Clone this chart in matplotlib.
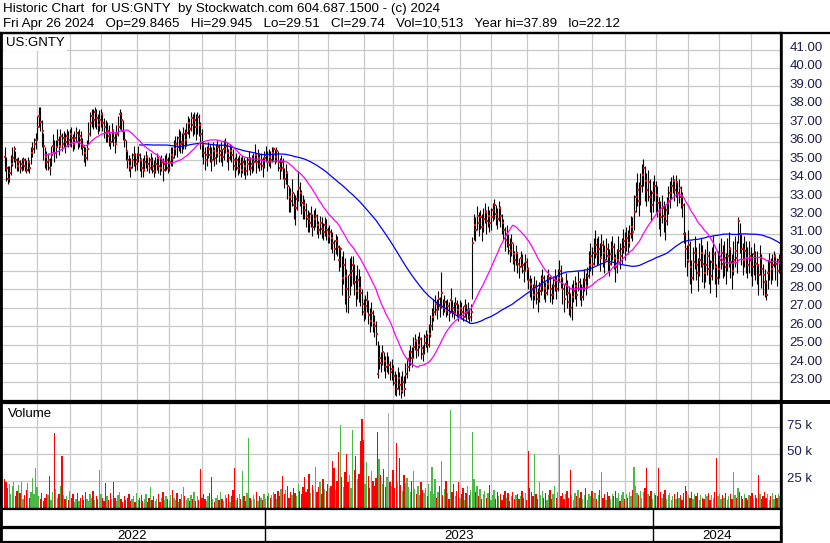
import numpy as np
import pandas as pd
import matplotlib
matplotlib.use("Agg")
import matplotlib.pyplot as plt

plt.rcParams['font.family'] = ['Liberation Sans', 'DejaVu Sans']

symbol = "US:GNTY"
title_line1 = "Historic Chart  for US:GNTY  by Stockwatch.com 604.687.1500 - (c) 2024"
title_line2 = ("Fri Apr 26 2024   Op=29.8465   Hi=29.945   Lo=29.51   Cl=29.74   "
               "Vol=10,513   Year hi=37.89   lo=22.12")

start_date = "2022-05-02"
end_date = "2024-04-26"
holidays = ["2022-05-30", "2022-06-20", "2022-07-04", "2022-09-05", "2022-11-24", "2022-12-26",
            "2023-01-02", "2023-01-16", "2023-02-20", "2023-04-07", "2023-05-29", "2023-06-19",
            "2023-07-04", "2023-09-04", "2023-11-23", "2023-12-25",
            "2024-01-01", "2024-01-15", "2024-02-19", "2024-03-29"]

# daily closes
close = [
    35.2, 34.6, 34.0, 34.3, 34.8, 35.1, 35.6, 35.0, 34.7, 34.9,
    34.6, 34.8, 35.0, 34.7, 34.5, 34.9, 34.6, 35.4, 35.6, 35.9,
    36.1, 36.8, 37.4, 37.1, 36.6, 35.8, 35.2, 34.9, 35.0, 34.6,
    35.3, 35.8, 35.4, 35.7, 36.1, 35.8, 36.3, 35.9, 36.2, 36.0,
    36.3, 36.1, 36.4, 36.2, 35.9, 36.2, 36.5, 36.0, 36.3, 36.1,
    35.7, 35.4, 35.1, 35.6, 36.4, 37.0, 37.4, 37.2, 37.6, 37.3,
    36.9, 37.2, 37.5, 37.0, 36.8, 36.5, 36.6, 36.3, 36.0, 36.6,
    36.2, 35.9, 36.4, 36.8, 37.5, 37.2, 36.6, 36.1, 35.5, 35.0,
    34.7, 34.6, 35.0, 35.3, 34.8, 35.0, 35.3, 35.0, 34.6, 34.5,
    34.9, 35.2, 34.8, 34.6, 35.0, 34.7, 34.4, 34.8, 35.1, 34.7,
    34.6, 34.9, 34.5, 34.8, 35.0, 34.6, 34.9, 35.3, 35.1, 35.6,
    35.9, 35.7, 36.2, 35.9, 36.0, 36.4, 36.1, 36.5, 37.0, 36.7,
    37.3, 36.9, 37.2, 36.8, 37.35, 36.9, 36.4, 35.9, 35.4, 35.0,
    35.3, 35.6, 35.3, 35.0, 35.5, 35.1, 35.4, 35.7, 35.3, 35.5,
    35.2, 35.6, 35.8, 35.4, 35.1, 35.5, 35.3, 35.0, 34.7, 35.0,
    34.6, 34.8, 34.5, 34.9, 34.7, 34.4, 34.8, 35.0, 34.6, 34.8,
    34.9, 35.3, 34.9, 35.1, 34.8, 35.0, 34.7, 35.1, 35.3, 34.9,
    35.2, 35.0, 35.4, 35.6, 35.2, 35.5, 34.9, 34.6, 34.9, 34.6,
    34.0, 34.3, 33.6, 33.0, 32.8, 33.2, 32.6, 32.4, 32.9, 33.5,
    33.2, 32.7, 32.6, 32.3, 32.0, 31.8, 31.6, 32.1, 31.4, 31.8,
    32.0, 31.5, 31.2, 31.6, 31.3, 31.1, 31.5, 31.2, 30.9, 31.1,
    30.8, 30.5, 30.2, 30.6, 30.3, 29.6, 30.2, 28.6, 29.3, 28.7,
    28.0, 27.6, 28.8, 29.0, 29.3, 28.4, 27.9, 28.5, 28.1, 27.8,
    27.2, 26.8, 27.1, 27.4, 26.6, 26.3, 26.7, 26.2, 26.0, 25.6,
    23.4, 24.3, 24.0, 24.6, 24.1, 23.8, 23.9, 23.9, 23.5, 23.7,
    23.3, 22.9, 22.6, 23.2, 22.8, 22.5, 23.0, 22.6, 23.4, 23.8,
    24.2, 24.6, 24.3, 24.9, 25.2, 24.7, 25.0, 25.3, 24.8, 24.5,
    25.1, 25.4, 25.0, 25.6, 26.0, 26.5, 26.8, 27.2, 26.9, 27.5,
    27.1, 27.8, 27.0, 27.3, 26.9, 27.1, 26.7, 27.4, 27.0, 26.8,
    27.2, 26.9, 26.6, 27.0, 26.8, 26.5, 27.1, 26.7, 26.9, 26.5,
    26.8, 30.5, 31.5, 31.2, 32.0, 31.6, 31.9, 31.4, 31.8, 32.2,
    31.7, 32.0, 31.6, 31.9, 32.3, 32.6, 32.1, 31.8, 32.4, 32.0,
    31.6, 31.2, 30.7, 31.0, 30.4, 30.1, 30.5, 29.9, 29.6, 30.0,
    29.4, 29.2, 29.7, 29.3, 29.0, 29.5, 29.1, 28.5, 28.3, 28.0,
    27.7, 28.2, 27.8, 27.5, 27.9, 28.2, 28.6, 28.1, 27.8, 28.3,
    28.6, 28.0, 27.7, 28.2, 28.5, 28.0, 28.6, 29.0, 28.6, 28.0,
    27.5, 28.3, 27.8, 27.3, 27.0, 27.6, 27.9, 28.2, 27.7, 28.4,
    28.0, 27.6, 28.1, 28.5, 28.2, 28.7, 29.3, 29.8, 29.4, 30.0,
    30.4, 29.9, 30.2, 29.7, 30.4, 30.0, 29.6, 30.2, 29.8, 29.4,
    29.9, 30.3, 29.7, 29.2, 29.6, 30.1, 29.8, 30.2, 30.6, 30.3,
    30.8, 30.5, 31.0, 31.4, 31.1, 32.2, 33.0, 33.4, 32.8, 33.6,
    34.2, 34.6, 33.9, 33.4, 33.8, 33.0, 32.6, 33.2, 33.6, 33.1,
    32.7, 32.2, 31.9, 32.4, 32.0, 31.7, 32.3, 32.8, 33.2, 33.6,
    33.9, 33.4, 33.8, 33.2, 33.5, 33.0, 32.6, 31.0, 30.2, 29.6,
    30.4, 29.2, 28.6, 29.5, 30.0, 29.3, 28.9, 29.6, 30.0, 29.4,
    28.9, 29.3, 29.8, 29.1, 28.7, 29.5, 29.9, 29.2, 28.6, 29.1,
    29.6, 30.0, 29.4, 29.7, 29.2, 29.8, 30.2, 29.5, 29.0, 29.6,
    30.1, 29.7, 31.7, 31.0, 30.2, 29.6, 30.1, 29.7, 29.3, 29.8,
    29.6, 29.2, 29.9, 29.4, 29.3, 28.8, 29.7, 29.1, 28.8, 28.4,
    27.7, 28.9, 29.5, 29.1, 29.3, 29.8, 29.4, 29.0, 29.6, 29.74,
]

# distance from close up to the day's high
hi_off = [
    0.5, 0.6, 0.7, 0.4, 0.5, 0.6, 0.2, 0.5, 0.4, 0.3,
    0.4, 0.3, 0.2, 0.4, 0.5, 0.3, 0.4, 0.3, 0.4, 0.3,
    0.4, 0.6, 0.49, 0.8, 0.6, 0.7, 0.5, 0.6, 0.4, 0.5,
    0.5, 0.6, 0.7, 0.4, 0.6, 0.5, 0.4, 0.6, 0.4, 0.5,
    0.4, 0.5, 0.3, 0.6, 0.5, 0.4, 0.3, 0.6, 0.4, 0.5,
    0.5, 0.4, 0.6, 0.5, 0.7, 0.6, 0.4, 0.6, 0.3, 0.5,
    0.6, 0.5, 0.3, 0.6, 0.5, 0.7, 0.5, 0.6, 0.5, 0.4,
    0.5, 0.6, 0.5, 0.6, 0.3, 0.4, 0.6, 0.5, 0.6, 0.5,
    0.6, 0.5, 0.4, 0.5, 0.6, 0.4, 0.5, 0.4, 0.5, 0.6,
    0.4, 0.3, 0.5, 0.6, 0.4, 0.5, 0.6, 0.4, 0.3, 0.5,
    0.5, 0.4, 0.6, 0.5, 0.4, 0.6, 0.5, 0.4, 0.6, 0.5,
    0.4, 0.6, 0.5, 0.7, 0.5, 0.4, 0.6, 0.5, 0.4, 0.6,
    0.3, 0.6, 0.4, 0.7, 0.25, 0.6, 0.7, 0.8, 0.6, 0.7,
    0.5, 0.4, 0.6, 0.7, 0.5, 0.6, 0.5, 0.4, 0.6, 0.5,
    0.4, 0.5, 0.4, 0.6, 0.5, 0.4, 0.5, 0.6, 0.5, 0.4,
    0.6, 0.5, 0.7, 0.4, 0.5, 0.6, 0.4, 0.5, 0.6, 0.5,
    0.5, 0.6, 0.4, 0.5, 0.6, 0.4, 0.5, 0.4, 0.5, 0.6,
    0.4, 0.5, 0.3, 0.1, 0.4, 0.2, 0.6, 0.5, 0.4, 0.5,
    0.6, 0.5, 0.8, 0.6, 0.7, 0.8, 0.6, 0.7, 0.5, 0.9,
    0.6, 0.7, 0.5, 0.6, 0.7, 0.5, 0.6, 0.4, 0.7, 0.5,
    0.4, 0.6, 0.5, 0.4, 0.6, 0.5, 0.4, 0.6, 0.5, 0.4,
    0.5, 0.6, 0.5, 0.4, 0.6, 0.8, 0.1, 1.2, 0.8, 1.0,
    1.1, 1.2, 0.9, 0.8, 0.5, 1.0, 0.9, 0.8, 1.0, 0.9,
    0.8, 0.7, 0.6, 0.5, 0.8, 0.7, 0.6, 0.7, 0.6, 0.7,
    1.8, 0.7, 0.6, 0.4, 0.5, 0.6, 0.7, 0.5, 0.6, 0.5,
    0.6, 0.7, 0.8, 0.6, 0.7, 0.8, 0.6, 0.7, 0.6, 0.5,
    0.5, 0.4, 0.6, 0.5, 0.4, 0.6, 0.5, 0.4, 0.6, 0.5,
    0.5, 0.4, 0.6, 0.5, 0.6, 0.5, 0.7, 0.5, 0.6, 0.4,
    0.5, 1.15, 0.5, 0.4, 0.5, 0.4, 0.6, 0.7, 0.4, 0.5,
    0.4, 0.5, 0.6, 0.4, 0.5, 0.6, 0.4, 0.5, 0.4, 0.5,
    0.4, 0.35, 0.6, 0.7, 0.5, 0.6, 0.4, 0.7, 0.6, 0.5,
    0.6, 0.5, 0.7, 0.5, 0.4, 0.3, 0.5, 0.6, 0.4, 0.5,
    0.5, 0.6, 0.7, 0.5, 0.6, 0.7, 0.5, 0.6, 0.5, 0.4,
    0.6, 0.5, 0.4, 0.6, 0.5, 0.4, 0.6, 0.7, 0.5, 0.6,
    0.6, 0.5, 0.7, 0.6, 0.5, 0.6, 0.5, 0.7, 0.6, 0.5,
    0.5, 0.7, 0.6, 0.5, 0.6, 0.7, 0.5, 0.6, 0.7, 0.6,
    0.8, 0.6, 0.7, 0.9, 0.8, 0.7, 0.6, 0.5, 0.7, 0.6,
    0.6, 0.7, 0.5, 0.6, 0.7, 0.5, 0.8, 0.7, 0.9, 0.8,
    0.8, 0.9, 0.7, 0.8, 0.6, 0.7, 0.8, 0.6, 0.7, 0.8,
    0.7, 0.6, 0.8, 0.7, 0.6, 0.8, 0.7, 0.6, 0.7, 0.8,
    0.6, 0.7, 0.5, 0.6, 0.8, 0.9, 0.8, 0.9, 1.0, 0.7,
    0.6, 0.45, 0.8, 0.9, 0.7, 1.0, 0.8, 0.7, 0.6, 0.8,
    0.9, 0.8, 0.9, 0.7, 0.8, 0.9, 0.7, 0.8, 0.7, 0.5,
    0.3, 0.6, 0.4, 0.6, 0.5, 0.6, 0.7, 1.7, 0.9, 0.8,
    0.8, 1.4, 1.0, 0.8, 0.9, 1.0, 0.8, 0.9, 0.8, 1.0,
    1.0, 0.9, 0.8, 1.0, 0.9, 0.8, 1.0, 0.9, 0.8, 1.0,
    0.9, 0.8, 1.0, 0.9, 0.8, 1.0, 0.9, 0.8, 0.9, 1.0,
    0.8, 0.9, 0.25, 0.6, 0.8, 0.9, 0.8, 0.9, 1.0, 0.8,
    0.7, 0.8, 0.6, 0.7, 0.8, 0.6, 0.7, 0.8, 0.6, 0.7,
    0.8, 0.7, 0.5, 0.6, 0.6, 0.3, 0.5, 0.7, 0.3, 0.205,
]

# distance from close down to the day's low
lo_off = [
    0.8, 0.7, 0.3, 0.5, 0.6, 0.4, 0.7, 0.4, 0.3, 0.5,
    0.3, 0.4, 0.5, 0.3, 0.2, 0.5, 0.3, 0.6, 0.4, 0.5,
    0.5, 0.7, 0.6, 0.5, 0.9, 0.8, 0.6, 0.4, 0.5, 0.4,
    0.6, 0.4, 0.5, 0.6, 0.3, 0.5, 0.6, 0.4, 0.5, 0.6,
    0.5, 0.4, 0.6, 0.5, 0.4, 0.6, 0.5, 0.4, 0.6, 0.5,
    0.4, 0.5, 0.4, 0.6, 0.5, 0.7, 0.6, 0.5, 0.8, 0.6,
    0.5, 0.6, 0.7, 0.4, 0.6, 0.5, 0.6, 0.5, 0.4, 0.6,
    0.4, 0.5, 0.4, 0.5, 0.8, 0.6, 0.5, 0.4, 0.5, 0.4,
    0.3, 0.5, 0.4, 0.6, 0.4, 0.5, 0.4, 0.6, 0.5, 0.4,
    0.5, 0.6, 0.4, 0.3, 0.5, 0.4, 0.3, 0.5, 0.6, 0.4,
    0.4, 0.5, 0.6, 0.4, 0.5, 0.3, 0.5, 0.6, 0.4, 0.5,
    0.6, 0.5, 0.7, 0.5, 0.6, 0.8, 0.5, 0.7, 0.6, 0.5,
    0.7, 0.6, 0.8, 0.7, 0.9, 0.6, 0.8, 0.7, 0.6, 0.5,
    0.6, 0.5, 0.4, 0.6, 0.5, 0.4, 0.6, 0.5, 0.4, 0.6,
    0.5, 0.6, 0.4, 0.5, 0.6, 0.5, 0.4, 0.5, 0.6, 0.5,
    0.4, 0.5, 0.4, 0.6, 0.5, 0.4, 0.6, 0.5, 0.4, 0.5,
    0.5, 0.4, 0.6, 0.5, 0.4, 0.5, 0.6, 0.5, 0.4, 0.5,
    0.5, 0.4, 0.5, 0.6, 0.4, 0.6, 0.5, 0.6, 0.5, 0.6,
    0.5, 0.6, 0.7, 0.8, 0.6, 0.7, 0.8, 0.9, 0.6, 0.7,
    0.7, 0.6, 0.8, 0.5, 0.6, 0.7, 0.5, 0.7, 0.5, 0.6,
    0.6, 0.5, 0.4, 0.6, 0.5, 0.4, 0.6, 0.5, 0.4, 0.6,
    0.6, 0.5, 0.6, 0.7, 0.5, 0.6, 1.0, 0.9, 1.0, 1.5,
    1.2, 0.9, 1.1, 0.8, 1.0, 0.7, 0.8, 1.0, 0.8, 0.7,
    0.6, 0.5, 0.7, 0.6, 0.5, 0.6, 0.7, 0.5, 0.6, 0.6,
    0.2, 0.6, 0.5, 0.7, 0.5, 0.6, 0.4, 0.5, 0.4, 0.6,
    0.5, 0.6, 0.4, 0.6, 0.5, 0.38, 0.6, 0.4, 0.5, 0.6,
    0.6, 0.7, 0.5, 0.6, 0.5, 0.4, 0.6, 0.5, 0.6, 0.4,
    0.6, 0.5, 0.4, 0.7, 0.6, 0.7, 0.5, 0.6, 0.5, 0.6,
    0.6, 0.8, 0.4, 0.5, 0.4, 0.5, 0.4, 0.6, 0.5, 0.4,
    0.5, 0.4, 0.3, 0.5, 0.4, 0.2, 0.6, 0.4, 0.5, 0.3,
    0.5, 3.0, 0.8, 0.6, 0.8, 0.7, 0.6, 0.8, 0.7, 0.6,
    0.7, 0.6, 0.5, 0.7, 0.6, 0.8, 0.6, 0.5, 0.7, 0.6,
    0.6, 0.5, 0.6, 0.7, 0.5, 0.6, 0.7, 0.5, 0.6, 0.7,
    0.5, 0.6, 0.5, 0.4, 0.6, 0.5, 0.6, 0.5, 0.7, 0.6,
    0.7, 0.8, 0.6, 0.7, 0.6, 0.5, 0.7, 0.6, 0.5, 0.6,
    0.6, 0.7, 0.5, 0.7, 0.6, 0.5, 0.7, 0.6, 0.5, 0.8,
    0.7, 0.6, 0.8, 0.7, 0.5, 1.25, 0.6, 0.7, 0.6, 0.5,
    0.6, 0.5, 0.7, 0.6, 0.5, 0.6, 0.7, 0.8, 0.6, 0.7,
    0.7, 0.6, 0.8, 0.7, 0.6, 0.8, 0.7, 0.6, 0.8, 0.7,
    0.6, 0.7, 0.6, 0.8, 0.7, 0.6, 0.7, 0.8, 0.6, 0.7,
    0.7, 0.6, 0.7, 0.6, 0.5, 1.0, 0.8, 0.9, 0.8, 1.0,
    0.9, 1.0, 1.1, 0.9, 1.0, 0.8, 0.9, 1.0, 0.8, 0.9,
    0.8, 0.9, 1.0, 0.8, 0.9, 1.0, 0.8, 0.7, 0.8, 0.7,
    0.7, 0.6, 0.8, 0.7, 0.8, 0.6, 0.7, 0.5, 1.0, 0.9,
    0.9, 0.9, 0.8, 1.0, 0.9, 0.8, 1.0, 0.9, 0.8, 1.0,
    0.8, 0.9, 1.0, 0.8, 0.9, 1.0, 0.8, 0.9, 1.0, 0.8,
    1.0, 0.9, 0.8, 1.0, 0.9, 0.8, 1.0, 0.9, 1.0, 0.8,
    0.9, 0.8, 1.2, 1.0, 0.9, 0.8, 0.9, 0.8, 0.7, 0.9,
    0.9, 1.0, 1.1, 0.9, 1.0, 1.1, 0.9, 1.0, 1.1, 0.8,
    0.3, 0.9, 1.0, 0.8, 0.8, 0.6, 0.9, 0.8, 0.7, 0.23,
]

# daily volume, thousands of shares
volume_k = [
    26, 24, 18, 22, 12, 20, 24, 10, 15, 21,
    13, 24, 8, 11, 16, 23, 9, 14, 27, 12,
    37, 19, 10, 8, 13, 6, 9, 12, 11, 29,
    7, 14, 70, 17, 9, 12, 20, 48, 11, 8,
    10, 7, 15, 9, 12, 5, 8, 13, 6, 9,
    11, 7, 14, 8, 6, 12, 9, 15, 7, 10,
    8, 35, 12, 9, 6, 23, 10, 7, 13, 8,
    24, 9, 6, 11, 14, 8, 5, 10, 7, 9,
    12, 6, 8, 10, 5, 13, 7, 9, 11, 6,
    8, 12, 5, 9, 19, 7, 10, 6, 8, 12,
    5, 9, 14, 7, 10, 8, 6, 11, 16, 9,
    7, 13, 5, 8, 12, 19, 10, 7, 9, 6,
    11, 8, 14, 6, 10, 7, 36, 9, 12, 8,
    6, 10, 13, 28, 8, 5, 9, 11, 7, 14,
    8, 6, 11, 9, 12, 5, 10, 16, 37, 7,
    9, 12, 8, 34, 10, 6, 13, 65, 9, 7,
    11, 8, 14, 6, 10, 9, 7, 12, 8, 10,
    13, 9, 11, 14, 12, 8, 15, 10, 17, 29,
    12, 16, 20, 9, 14, 11, 18, 13, 10, 22,
    15, 12, 19, 28, 14, 17, 31, 13, 21, 16,
    38, 14, 19, 24, 12, 26, 17, 15, 22, 18,
    20, 43, 37, 16, 25, 52, 77, 28, 19, 33,
    50, 24, 30, 18, 73, 35, 48, 26, 31, 62,
    83, 63, 22, 42, 29, 18, 34, 25, 20, 27,
    71, 45, 30, 22, 36, 19, 28, 89, 24, 20,
    35, 18, 60, 24, 46, 21, 15, 30, 23, 27,
    19, 14, 25, 34, 17, 12, 20, 11, 24, 16,
    13, 18, 10, 22, 15, 38, 12, 26, 9, 14,
    20, 43, 11, 17, 25, 13, 8, 91, 14, 22,
    10, 15, 24, 9, 12, 18, 7, 13, 20, 11,
    16, 71, 26, 14, 20, 10, 17, 8, 12, 15,
    9, 13, 21, 7, 11, 16, 8, 14, 10, 12,
    7, 11, 15, 9, 13, 6, 10, 14, 8, 11,
    12, 8, 10, 15, 9, 13, 7, 53, 18, 14,
    10, 50, 12, 8, 24, 11, 15, 9, 13, 7,
    11, 16, 8, 12, 20, 9, 14, 49, 10, 13,
    8, 12, 15, 9, 35, 11, 7, 13, 10, 16,
    9, 14, 8, 11, 18, 7, 12, 10, 15, 9,
    13, 8, 11, 16, 33, 9, 12, 7, 14, 10,
    8, 12, 10, 15, 9, 13, 6, 11, 14, 8,
    12, 9, 14, 10, 16, 38, 20, 13, 11, 15,
    9, 14, 18, 37, 12, 10, 15, 8, 13, 11,
    10, 37, 14, 9, 12, 16, 8, 11, 13, 7,
    10, 12, 8, 14, 9, 11, 7, 13, 20, 15,
    11, 9, 14, 8, 12, 10, 13, 7, 11, 9,
    8, 12, 10, 13, 7, 11, 9, 14, 46, 10,
    12, 8, 11, 9, 13, 7, 10, 12, 8, 33,
    11, 9, 18, 14, 10, 8, 12, 9, 7, 11,
    10, 13, 8, 11, 9, 30, 12, 8, 10, 14,
    9, 12, 7, 10, 13, 8, 11, 9, 12, 10.5,
]

ma_short_days = 27
ma_long_days = 88
price_grid = list(range(22, 42))
price_labels = list(range(23, 42))
volume_grid = [25, 50, 75]

# ---------------------------------------------------------------- data prep
dates = pd.bdate_range(start_date, end_date)
dates = dates[~dates.isin(pd.to_datetime(holidays))]
n = len(close)
dates = dates[:n]
idx = np.arange(n)
close_a = np.array(close)
high = close_a + np.array(hi_off)
low = close_a - np.array(lo_off)
vol = np.array(volume_k, dtype=float)
s = pd.Series(close_a)
ma_s = s.rolling(ma_short_days).mean()
ma_l = s.rolling(ma_long_days).mean()

diff = np.diff(close_a, prepend=close_a[0])
vcolors = np.where(diff > 0, "#4cb848", np.where(diff < 0, "#ff0000", "#a8a8a8"))
vcolors[0] = "#ff0000"

ser = pd.Series(idx, index=dates)
month_starts = ser.groupby([dates.year, dates.month]).first().values[1:]
year_starts = ser.groupby(dates.year).first().values

# ---------------------------------------------------------------- figure
W, H = 830, 543
fig = plt.figure(figsize=(W / 100, H / 100), dpi=100)
fig.patch.set_facecolor("white")

def box(top, bottom, left=0, right=781):
    return [left / W, 1 - bottom / H, (right - left) / W, (bottom - top) / H]

XL = (-2.9, 499.6)
grid_c = "#c8c8c8"
lab_c = "#1c1c50"

ax = fig.add_axes(box(33, 401))
axv = fig.add_axes(box(403, 509))
ax1 = fig.add_axes(box(509, 527))
ax2 = fig.add_axes(box(528, 542))

for a in (ax, axv, ax1, ax2):
    a.set_xlim(*XL)
    a.set_xticks([])
    a.set_yticks([])
    for sp in a.spines.values():
        sp.set_linewidth(1.6)
        sp.set_color("black")

# price panel
ax.set_ylim(21.95, 41.9)
for p in price_grid:
    ax.axhline(p, color=grid_c, lw=0.9, zorder=0)
for m in month_starts:
    ax.axvline(m, color=grid_c, lw=0.9, zorder=0)
ax.vlines(idx, low, high, color="black", lw=0.8, zorder=2)
ax.scatter(idx + 0.5, close_a, marker="s", s=3.6, c="#ff0000", linewidths=0, zorder=3)
ax.plot(idx, ma_l, color="#0000ff", lw=0.9, zorder=4)
ax.plot(idx, ma_s, color="#ff00ff", lw=0.9, zorder=4)
ax.text(6 / 781, 1 - 10 / 368, symbol, transform=ax.transAxes, fontsize=9.5,
        va="center", ha="left", color="black",
        bbox=dict(facecolor="white", edgecolor="none", pad=1.5), zorder=6)
for p in price_labels:
    ax.annotate(f"{p:.2f}", xy=(1.0, p), xycoords=("axes fraction", "data"),
                xytext=(6, 1.2), textcoords="offset points", fontsize=9.5,
                color=lab_c, va="center", ha="left", annotation_clip=False)

# volume panel
axv.set_ylim(-1.8, 98)
for v in volume_grid:
    axv.axhline(v, color=grid_c, lw=0.9, zorder=0)
for m in month_starts:
    axv.axvline(m, color=grid_c, lw=0.9, zorder=0)
axv.bar(idx, vol + 1.8, bottom=-1.8, width=0.85, color=vcolors, linewidth=0, zorder=2)
axv.text(8 / 781, 1 - 11 / 106, "Volume", transform=axv.transAxes, fontsize=9.5,
         va="center", ha="left", color="black")
for v in volume_grid:
    axv.annotate(f"{v} k", xy=(1.0, v), xycoords=("axes fraction", "data"),
                 xytext=(4, 1.2), textcoords="offset points", fontsize=9.5,
                 color=lab_c, va="center", ha="left", annotation_clip=False)

# date strips
bounds = [XL[0]] + [y - 1.7 for y in year_starts[1:]] + [XL[1]]
for a in (ax1, ax2):
    for b in bounds[1:-1]:
        a.axvline(b, color="black", lw=1.0)
for k, yr in enumerate(sorted(set(dates.year))):
    ax2.text((bounds[k] + bounds[k + 1]) / 2, 0.45, str(yr), ha="center", va="center",
             fontsize=9.5, color="black", transform=ax2.get_xaxis_transform())

# frame lines spanning into right margin
fig.add_artist(plt.Line2D([0, 1], [1 - 33 / H] * 2, color="black", lw=1.6))
fig.add_artist(plt.Line2D([0, 1], [1 - 401 / H] * 2, color="black", lw=1.4))
fig.add_artist(plt.Line2D([0, 1], [1 - 403 / H] * 2, color="black", lw=1.4))
fig.add_artist(plt.Line2D([781 / W] * 2, [1 - 542 / H, 1 - 33 / H], color="black", lw=1.8))
fig.add_artist(plt.Line2D([1 / W] * 2, [1 - 542 / H, 1 - 33 / H], color="black", lw=2.0))

# header
fig.text(3 / W, 1 - 9 / H, title_line1, fontsize=9.6, va="center", ha="left", color="black")
fig.text(3 / W, 1 - 24.5 / H, title_line2, fontsize=9.6, va="center", ha="left", color="black")

fig.savefig("out.png", dpi=100, facecolor="white")
